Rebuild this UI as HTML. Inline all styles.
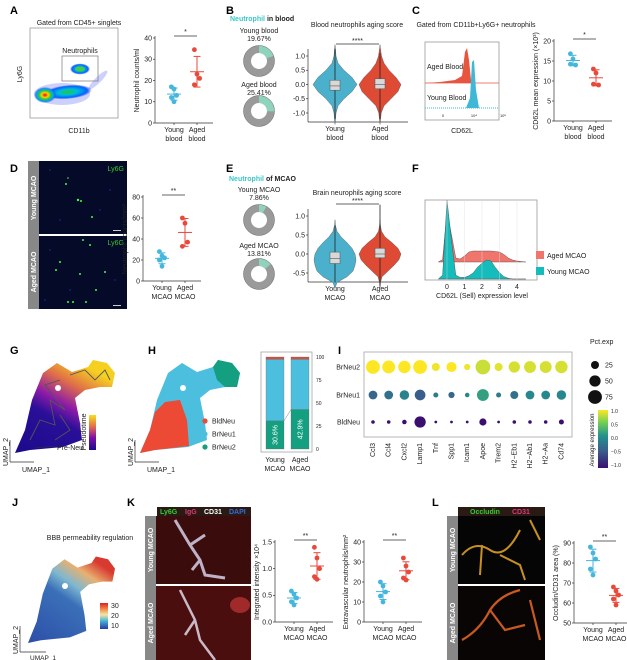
<!DOCTYPE html>
<html><head><meta charset="utf-8">
<style>
html,body{margin:0;padding:0;background:#fff;}
svg{display:block;font-family:"Liberation Sans",Arial,sans-serif;}
text{font-size:7px;fill:#222;}
.pl{font-size:11px;font-weight:bold;fill:#000;}
.ax{stroke:#333;stroke-width:0.7;fill:none;}
</style></head>
<body>
<svg id="fig" width="627" height="660" viewBox="0 0 627 660" xmlns="http://www.w3.org/2000/svg">
<defs>
<radialGradient id="hot" cx="50%" cy="50%" r="50%"><stop offset="0" stop-color="#e00"/><stop offset="0.3" stop-color="#fc0"/><stop offset="0.55" stop-color="#2c4"/><stop offset="0.8" stop-color="#09f"/><stop offset="1" stop-color="#22f" stop-opacity="0"/></radialGradient>
<radialGradient id="hot2" cx="50%" cy="50%" r="50%"><stop offset="0" stop-color="#2c2"/><stop offset="0.4" stop-color="#0bd"/><stop offset="0.8" stop-color="#06f"/><stop offset="1" stop-color="#22f" stop-opacity="0"/></radialGradient>
<linearGradient id="pseudo" x1="0" y1="1" x2="0" y2="0"><stop offset="0" stop-color="#1a0a8c"/><stop offset="0.35" stop-color="#7a11a8"/><stop offset="0.65" stop-color="#e1664f"/><stop offset="1" stop-color="#f8e020"/></linearGradient>
<linearGradient id="gblob" x1="0" y1="1" x2="0.6" y2="0"><stop offset="0" stop-color="#1a0a8c"/><stop offset="0.45" stop-color="#2a0f98"/><stop offset="0.6" stop-color="#8b1aa8"/><stop offset="0.8" stop-color="#e07048"/><stop offset="1" stop-color="#f5d020"/></linearGradient>
<linearGradient id="viri" x1="0" y1="1" x2="0" y2="0"><stop offset="0" stop-color="#3b0f70"/><stop offset="0.3" stop-color="#3a5e8c"/><stop offset="0.55" stop-color="#21918c"/><stop offset="0.8" stop-color="#7ad151"/><stop offset="1" stop-color="#fde725"/></linearGradient>
<linearGradient id="jet" x1="0" y1="1" x2="0" y2="0"><stop offset="0" stop-color="#2b3a9e"/><stop offset="0.3" stop-color="#3fb0d8"/><stop offset="0.55" stop-color="#f5e6a8"/><stop offset="0.8" stop-color="#f07a3a"/><stop offset="1" stop-color="#d8202a"/></linearGradient>
<linearGradient id="jblob" x1="0" y1="1" x2="0.7" y2="0"><stop offset="0" stop-color="#2d4ea8"/><stop offset="0.55" stop-color="#3a70b8"/><stop offset="0.7" stop-color="#7fb8d0"/><stop offset="0.85" stop-color="#e8b070"/><stop offset="1" stop-color="#d83a30"/></linearGradient>
<path id="umap" d="M15,453 L25,430 L32,400 L43,373 L57,363 L72,372 L88,367 L93,360 L107,363 L115,373 L112,387 L100,387 L85,390 L75,398 L80,423 L82,440 L63,447 L30,450 Z"/>
</defs>

<text class="pl" x="10" y="14">A</text>
<text class="pl" x="226" y="14">B</text>
<text class="pl" x="412" y="14">C</text>
<text class="pl" x="10" y="172">D</text>
<text class="pl" x="226" y="172">E</text>
<text class="pl" x="412" y="172">F</text>
<text class="pl" x="10" y="354">G</text>
<text class="pl" x="148" y="354">H</text>
<text class="pl" x="338" y="354">I</text>
<text class="pl" x="12" y="506">J</text>
<text class="pl" x="127" y="506">K</text>
<text class="pl" x="432" y="506">L</text>

<!-- A flow plot -->
<g>
<text x="79" y="25" text-anchor="middle">Gated from CD45+ singlets</text>
<rect x="30" y="28" width="88" height="90" fill="#fff" stroke="#999" stroke-width="0.8"/>
<ellipse cx="62" cy="94" rx="28" ry="11" fill="#3344ee" opacity="0.25"/>
<ellipse cx="68" cy="92" rx="24" ry="7" fill="url(#hot2)" transform="rotate(-5 68 92)"/>
<ellipse cx="45" cy="95" rx="11" ry="8" fill="url(#hot)"/>
<ellipse cx="80" cy="69" rx="10" ry="5.5" fill="url(#hot2)"/>
<ellipse cx="80" cy="69" rx="5" ry="2.5" fill="#4c4"/>
<ellipse cx="98" cy="80" rx="13" ry="3" fill="#3344ee" opacity="0.25" transform="rotate(-45 98 80)"/>
<rect x="62" y="56" width="36" height="25" fill="none" stroke="#777" stroke-width="0.7"/>
<text x="80" y="53" text-anchor="middle">Neutrophils</text>
<text x="0" y="0" transform="translate(22,74) rotate(-90)" text-anchor="middle">Ly6G</text>
<text x="79" y="133" text-anchor="middle">CD11b</text>
</g>

<text x="230" y="21" style="font-weight:bold"><tspan style="fill:#3cc6c8">Neutrophil</tspan> in blood</text>
<text x="259" y="33" text-anchor="middle">Young blood</text>
<text x="259" y="41" text-anchor="middle">19.67%</text>
<text x="259" y="87" text-anchor="middle">Aged blood</text>
<text x="259" y="95" text-anchor="middle">25.41%</text>
<text x="229" y="181" style="font-weight:bold"><tspan style="fill:#3cc6c8">Neutrophil</tspan> of MCAO</text>
<text x="259" y="192" text-anchor="middle">Young MCAO</text>
<text x="259" y="200" text-anchor="middle">7.86%</text>
<text x="259" y="248" text-anchor="middle">Aged MCAO</text>
<text x="259" y="256" text-anchor="middle">13.81%</text>
<g id="donuts"></g>

<text x="357" y="27" text-anchor="middle">Blood neutrophils aging score</text>
<text x="357" y="195" text-anchor="middle">Brain neurophils aging score</text>
<g id="violins"></g>

<text x="476" y="27" text-anchor="middle">Gated from CD11b+Ly6G+ neutrophils</text>
<g>
<rect x="425" y="42" width="74" height="78" fill="#fff" stroke="#999" stroke-width="0.8"/>
<line x1="425" y1="83" x2="499" y2="83" stroke="#e8553f" stroke-width="0.8"/>
<path d="M426,83 L440,82 L455,80 L462,76 L465,52 L467,48 L469,60 L471,80 L474,83 Z" fill="#e8553f"/>
<line x1="425" y1="108" x2="499" y2="108" stroke="#3fb7d6" stroke-width="1" stroke-dasharray="1 1"/>
<path d="M466,108 L470,98 L472,62 L474,60 L476,90 L479,108 Z" fill="#3fb7d6"/>
<text x="427" y="69">Aged Blood</text>
<text x="427" y="100">Young Blood</text>
<text x="443" y="117" style="font-size:4px" text-anchor="middle">0</text>
<text x="474" y="117" style="font-size:4px" text-anchor="middle">10⁴</text>
<text x="503" y="117" style="font-size:4px" text-anchor="middle">10⁵</text>
<text x="462" y="133" text-anchor="middle">CD62L</text>
</g>

<g>
<rect x="28" y="161" width="11" height="148" fill="#888"/>
<rect x="39" y="161" width="88" height="73" fill="#050a28"/>
<rect x="39" y="236" width="88" height="73" fill="#050a28"/>
<text transform="translate(36,198) rotate(-90)" text-anchor="middle" style="fill:#fff;font-weight:bold">Young MCAO</text>
<text transform="translate(36,272) rotate(-90)" text-anchor="middle" style="fill:#fff;font-weight:bold">Aged MCAO</text>
<text x="124" y="171" text-anchor="end" style="fill:#3c3">Ly6G</text>
<text x="124" y="245" text-anchor="end" style="fill:#3c3">Ly6G</text>
<g fill="#4f4"><circle cx="66" cy="184" r="1"/><circle cx="78" cy="200" r="1.2"/><circle cx="81" cy="201" r="1"/><circle cx="92" cy="217" r="1"/><circle cx="68" cy="178" r="0.8"/><circle cx="83" cy="240" r="1"/><circle cx="90" cy="245" r="1"/><circle cx="56" cy="270" r="1"/><circle cx="60" cy="262" r="1"/><circle cx="80" cy="274" r="1"/><circle cx="105" cy="272" r="1"/><circle cx="96" cy="290" r="1"/><circle cx="73" cy="302" r="1"/><circle cx="86" cy="302" r="1"/><circle cx="68" cy="302" r="1"/></g>
<g fill="#2233aa"><circle cx="50" cy="170" r="0.7"/><circle cx="110" cy="190" r="0.7"/><circle cx="60" cy="220" r="0.7"/><circle cx="100" cy="210" r="0.7"/><circle cx="50" cy="250" r="0.7"/><circle cx="115" cy="280" r="0.7"/><circle cx="70" cy="290" r="0.7"/><circle cx="45" cy="300" r="0.7"/></g>
<rect x="113" y="230" width="8" height="1" fill="#ccc"/><rect x="113" y="305" width="8" height="1" fill="#ccc"/>
</g>

<g id="ridges">
<rect x="425" y="200" width="112" height="80" fill="#fff" stroke="#999" stroke-width="0.8"/>
</g>
<rect x="536" y="251" width="8" height="8" fill="#f0766d"/>
<text x="547" y="258">Aged MCAO</text>
<rect x="536" y="267" width="8" height="8" fill="#14bcbc"/>
<text x="547" y="274">Young MCAO</text>
<text x="482" y="298" text-anchor="middle">CD62L (Sell) expression level</text>

<g>
<use href="#umap" fill="url(#gblob)"/>
<path d="M30,440 L40,420 L55,425 L50,400 L65,410 L45,385 L60,380 M70,375 L85,370 L95,380 L105,370 L110,380 M55,440 L70,430 L60,415" stroke="#555" stroke-width="0.9" fill="none"/>
<circle cx="58" cy="388" r="3" fill="#fff"/>
<rect x="89" y="415" width="7" height="35" fill="url(#pseudo)"/>
<text transform="translate(86,432) rotate(-90)" text-anchor="middle">Pseudotime</text>
<line x1="35" y1="448" x2="55" y2="446" stroke="#333" stroke-width="0.6"/>
<text x="57" y="450">Pre-Neu</text>
<line x1="10" y1="462" x2="10" y2="440" stroke="#333" stroke-width="0.7"/>
<line x1="10" y1="462" x2="34" y2="462" stroke="#333" stroke-width="0.7"/>
<text transform="translate(8,452) rotate(-90)" text-anchor="middle">UMAP_2</text>
<text x="22" y="472">UMAP_1</text>
</g>

<g transform="translate(125,0)">
<use href="#umap" fill="#4cbfdf"/>
<path d="M88,367 L93,360 L107,363 L115,373 L112,387 L100,387 L92,380 Z" fill="#14a080"/>
<path d="M15,453 L25,430 L30,412 L40,402 L55,400 L62,420 L64,446 L30,450 Z" fill="#ec4a35"/>
<circle cx="58" cy="388" r="3" fill="#fff"/>
<line x1="10" y1="462" x2="10" y2="440" stroke="#333" stroke-width="0.7"/>
<line x1="10" y1="462" x2="34" y2="462" stroke="#333" stroke-width="0.7"/>
<text transform="translate(8,452) rotate(-90)" text-anchor="middle">UMAP_2</text>
<text x="22" y="472">UMAP_1</text>
</g>
<circle cx="205" cy="421" r="2.6" fill="#ec4a35"/><text x="212" y="423.5">BldNeu</text>
<circle cx="205" cy="434" r="2.6" fill="#4cbfdf"/><text x="212" y="436.5">BrNeu1</text>
<circle cx="205" cy="447" r="2.6" fill="#14a080"/><text x="212" y="449.5">BrNeu2</text>
<g id="stack"></g>
<g id="dotplot"></g>

<text x="90" y="540" text-anchor="middle">BBB permeability regulation</text>
<g>
<use href="#umap" fill="url(#jblob)" transform="translate(28,643) scale(0.87,0.93) translate(-15,-453)"/>
<circle cx="65" cy="586" r="3" fill="#fff"/>
<rect x="100" y="603" width="8" height="26" fill="url(#jet)"/>
<text x="111" y="608">30</text><text x="111" y="618">20</text><text x="111" y="628">10</text>
<line x1="20" y1="652" x2="20" y2="626" stroke="#333" stroke-width="0.7"/>
<line x1="20" y1="652" x2="46" y2="652" stroke="#333" stroke-width="0.7"/>
<text transform="translate(18,640) rotate(-90)" text-anchor="middle">UMAP_2</text>
<text x="30" y="660" style="font-size:6.5px">UMAP_1</text>
</g>

<g>
<rect x="157" y="507" width="94" height="9" fill="#2a1a14"/>
<text x="160" y="514" style="fill:#3c3;font-weight:bold">Ly6G</text>
<text x="185" y="514" style="fill:#e2357a;font-weight:bold">IgG</text>
<text x="204" y="514" style="fill:#fff;font-weight:bold">CD31</text>
<text x="229" y="514" style="fill:#3a6ad8;font-weight:bold">DAPI</text>
<rect x="145" y="516" width="11" height="144" fill="#888"/>
<rect x="156" y="516" width="95" height="68" fill="#3a0c0c"/>
<rect x="156" y="586" width="95" height="74" fill="#4a0e0e"/>
<path d="M175,520 L190,545 L200,560 L205,575 L225,578 M190,545 L205,535 M200,560 L192,570" stroke="#d8d0e8" stroke-width="3" fill="none" opacity="0.85"/>
<path d="M180,590 L195,620 L200,640 L215,660 M195,620 L185,635" stroke="#e0d8e8" stroke-width="2.5" fill="none" opacity="0.85"/>
<ellipse cx="240" cy="605" rx="10" ry="8" fill="#a02a2a"/>
<text transform="translate(153,550) rotate(-90)" text-anchor="middle" style="fill:#fff;font-weight:bold">Young MCAO</text>
<text transform="translate(153,623) rotate(-90)" text-anchor="middle" style="fill:#fff;font-weight:bold">Aged MCAO</text>
</g>

<g>
<rect x="458" y="507" width="87" height="9" fill="#2a1a14"/>
<text x="470" y="514" style="fill:#3c3;font-weight:bold">Occludin</text>
<text x="512" y="514" style="fill:#e2357a;font-weight:bold">CD31</text>
<rect x="447" y="516" width="11" height="144" fill="#888"/>
<rect x="458" y="516" width="87" height="68" fill="#050505"/>
<rect x="458" y="586" width="87" height="74" fill="#0a0505"/>
<path d="M462,555 Q475,540 490,550 Q505,560 520,530 M482,545 L480,575 M500,555 L520,565 L525,580 M530,520 L540,540" stroke="#c89020" stroke-width="2" fill="none"/>
<path d="M462,640 Q480,630 490,610 Q500,595 520,590 M490,610 L505,630 L525,625 M530,600 L540,640" stroke="#c85a20" stroke-width="2.2" fill="none"/>
<text transform="translate(455,550) rotate(-90)" text-anchor="middle" style="fill:#fff;font-weight:bold">Young MCAO</text>
<text transform="translate(455,623) rotate(-90)" text-anchor="middle" style="fill:#fff;font-weight:bold">Aged MCAO</text>
</g>

<g id="scatters"></g>
</svg>

<script>
const NS='http://www.w3.org/2000/svg';
function mk(tag,attrs,parent,txt){const e=document.createElementNS(NS,tag);for(const k in attrs)e.setAttribute(k,attrs[k]);if(txt!==undefined)e.textContent=txt;parent.appendChild(e);return e;}
const YC='#45b6dc', AC='#e8493a';

const aYoung=[17,16,13,12,10], aAged=[34.5,23,21,18];
const cYoung=[16.8,15.5,14,14.2], cAged=[13,12,9,9.2];
const dYoung=[28,24,22,20,14], dAged=[60,55,37,33];
const k1Young=[0.58,0.52,0.45,0.38,0.32], k1Aged=[1.4,1.2,1.0,0.85,0.8];
const k2Young=[20,18,15,13,10], k2Aged=[32,28,25,22,21];
const lYoung=[88,85,82,77,74], lAged=[68,66,64,62,59];
const aTicks=[0,10,20,30,40], cTicks=[0,5,10,15,20], dTicks=[0,20,40,60,80];
const k1Ticks=[0,0.5,1.0,1.5], k2Ticks=[0,10,20,30,40], lTicks=[50,60,70,80,90];

function mean(a){return a.reduce((s,v)=>s+v,0)/a.length;}
function sd(a){const m=mean(a);return Math.sqrt(a.reduce((s,v)=>s+(v-m)*(v-m),0)/(a.length-1));}

const sg=document.getElementById('scatters');
function scatter(id,ax,yTop,yBot,ticks,dec,young,aged,ylab,sig,cat){
  const g=mk('g',{},sg);
  
  
  const vmin=ticks[0],vmax=ticks[ticks.length-1];
  const y=v=>yBot-(v-vmin)/(vmax-vmin)*(yBot-yTop);
  const xY=ax+19, xA=ax+42;
  mk('line',{x1:ax,y1:yTop-2,x2:ax,y2:yBot,class:'ax'},g);
  mk('line',{x1:ax,y1:yBot,x2:ax+58,y2:yBot,class:'ax'},g);
  ticks.forEach(t=>{mk('line',{x1:ax-2,y1:y(t),x2:ax,y2:y(t),class:'ax'},g);
    const tl=mk('text',{x:ax-3,y:y(t)+2.3,'text-anchor':'end'},g,t.toFixed(dec));
    
    });
  [xY,xA].forEach(x=>mk('line',{x1:x,y1:yBot,x2:x,y2:yBot+2,class:'ax'},g));
  const yl=mk('text',{transform:`translate(${ax-16},${(yTop+yBot)/2}) rotate(-90)`,'text-anchor':'middle'},g,ylab);
  
  
  [[young,xY,YC,'young'],[aged,xA,AC,'aged']].forEach(([arr,x,c,n])=>{
    const m=mean(arr),s=sd(arr);
    mk('line',{x1:x-7,y1:y(m),x2:x+7,y2:y(m),stroke:c,'stroke-width':1},g);
    mk('line',{x1:x,y1:y(m-s),x2:x,y2:y(m+s),stroke:c,'stroke-width':1},g);
    mk('line',{x1:x-3.5,y1:y(m-s),x2:x+3.5,y2:y(m-s),stroke:c,'stroke-width':1},g);
    mk('line',{x1:x-3.5,y1:y(m+s),x2:x+3.5,y2:y(m+s),stroke:c,'stroke-width':1},g);
    arr.forEach((v,i)=>{const dx=((i%3)-1)*2.6;
      const p=mk('circle',{cx:x+dx,cy:y(v),r:2.4,fill:c},g);
      
      });
    const l1=mk('text',{x:x,y:yBot+9,'text-anchor':'middle'},g,n==='young'?'Young':'Aged');
    
    
    mk('text',{x:x,y:yBot+18,'text-anchor':'middle'},g,cat);
  });
  mk('line',{x1:xY,y1:yTop-2,x2:xA,y2:yTop-2,stroke:'#333','stroke-width':0.8},g);
  const st=mk('text',{x:(xY+xA)/2,y:yTop-4,'text-anchor':'middle'},g,sig);
  
  
}
scatter('scatter-a',155,38,123,aTicks,0,aYoung,aAged,'Neutrophil counts/ml','*','blood');
scatter('scatter-c',554,41,121,cTicks,0,cYoung,cAged,'CD62L mean expression (×10³)','*','blood');
scatter('scatter-d',143,197,281,dTicks,0,dYoung,dAged,'Neutrophil counts/mm²','**','MCAO');
scatter('scatter-k-igg',275,542,622,k1Ticks,1,k1Young,k1Aged,'Integrated intensity ×10⁴','**','MCAO');
scatter('scatter-k-neutrophils',364,542,622,k2Ticks,0,k2Young,k2Aged,'Extravascular neutrophils/mm²','**','MCAO');
scatter('scatter-l',574,543,623,lTicks,0,lYoung,lAged,'Occludin/CD31 area (%)','**','MCAO');

const donutPct=[19.67,25.41,7.86,13.81];
const donutNames=['young-blood','aged-blood','young-mcao','aged-mcao'];
const donutCy=[61,111,220,274];
const dg=document.getElementById('donuts');
donutPct.forEach((p,i)=>{
  const cx=259,cy=donutCy[i],R=15.5,r=8;
  const g=mk('g',{},dg);
  
  
  mk('circle',{cx:cx,cy:cy,r:(R+r)/2,fill:'none',stroke:'#9a9a9a','stroke-width':R-r},g);
  const a=p/100*2*Math.PI;
  const x1=cx,y1=cy-R,x2=cx+R*Math.sin(a),y2=cy-R*Math.cos(a);
  const x3=cx+r*Math.sin(a),y3=cy-r*Math.cos(a);
  const s=mk('path',{d:`M${x1},${y1} A${R},${R} 0 0 1 ${x2},${y2} L${x3},${y3} A${r},${r} 0 0 0 ${cx},${cy-r} Z`,fill:'#8fd3bd'},g);
  
  
  mk('circle',{cx:cx,cy:cy,r:R,fill:'none',stroke:'#666','stroke-width':0.5},g);
});

const vLevels=[-1.25,-1.0,-0.75,-0.5,-0.25,0,0.25,0.5,0.75,1.0,1.25];
const vbYoungW=[0.5,1,3,9,17,22,17,9,3,1,0.5];
const vbAgedW=[0.5,1.2,4,11,18,21,16,9,4,1.5,0.5];
const veLevels=[-0.75,-0.6,-0.45,-0.3,-0.15,0,0.15,0.3,0.45,0.6,0.75];
const veYoungW=[2,12,18,20,21,20,17,12,6,2,0.5];
const veAgedW=[0.5,2,8,14,19,21,18,12,5,1.5,0.5];
const vg=document.getElementById('violins');
function violinPanel(id,yTop,yBot,ticks,levels,yW,aW,boxY,boxA){
  const g=mk('g',{},vg);
  
  
  const ax=308, vmin=ticks[0], vmax=ticks[ticks.length-1];
  const yT=yTop+7, yB=yBot-9;
  const y=v=>yB-(v-vmin)/(vmax-vmin)*(yB-yT);
  mk('line',{x1:ax,y1:yTop,x2:ax,y2:yBot,class:'ax'},g);
  mk('line',{x1:ax,y1:yBot,x2:ax+100,y2:yBot,class:'ax'},g);
  ticks.forEach(t=>{mk('line',{x1:ax-2,y1:y(t),x2:ax,y2:y(t),class:'ax'},g);
    mk('text',{x:ax-3,y:y(t)+2.3,'text-anchor':'end'},g,t.toFixed(1));});
  [[335,yW,'#4bb0cc','young',boxY],[380,aW,'#de4a33','aged',boxA]].forEach(([cx,w,c,n,bx])=>{
    let d='M'+(cx)+','+y(levels[0]-0.15);
    levels.forEach((l,i)=>{d+=' L'+(cx+w[i])+','+y(l);});
    d+=' L'+cx+','+y(levels[levels.length-1]+0.15);
    for(let i=levels.length-1;i>=0;i--)d+=' L'+(cx-w[i])+','+y(levels[i]);
    d+='Z';
    const v=mk('path',{d:d,fill:c,stroke:'#555','stroke-width':0.4,'stroke-linejoin':'round'},g);
    
    
    mk('line',{x1:cx,y1:y(bx[0]),x2:cx,y2:y(bx[4]),stroke:'#222','stroke-width':0.8},g);
    const b=mk('rect',{x:cx-5,y:y(bx[3]),width:10,height:y(bx[1])-y(bx[3]),fill:'#d8d8d8',stroke:'#555','stroke-width':0.5},g);
    
    
    mk('line',{x1:cx-5,y1:y(bx[2]),x2:cx+5,y2:y(bx[2]),stroke:'#555','stroke-width':0.6},g);
  });
  mk('line',{x1:336,y1:yTop-5,x2:379,y2:yTop-5,stroke:'#333','stroke-width':0.8},g);
  mk('text',{x:357.5,y:yTop-6,'text-anchor':'middle'},g,'****');
}
const vbTicks=[-1.0,-0.5,0.0,0.5,1.0];
const veTicks=[-0.5,0.0,0.5,1.0];
violinPanel('violin-blood',49,122,vbTicks,vLevels,vbYoungW,vbAgedW,[-1.2,-0.2,-0.05,0.15,1.25],[-1.2,-0.15,0.0,0.2,1.1]);
violinPanel('violin-brain',209,282,veTicks,veLevels,veYoungW,veAgedW,[-0.75,-0.25,-0.12,0.05,0.75],[-0.85,-0.1,0.0,0.15,1.3]);
[['Young',335],['Aged',380]].forEach(([n,x])=>{
  mk('text',{x:x,y:131,'text-anchor':'middle'},vg,n);
  mk('text',{x:x,y:140,'text-anchor':'middle'},vg,'blood');
  mk('text',{x:x,y:291,'text-anchor':'middle'},vg,n);
  mk('text',{x:x,y:300,'text-anchor':'middle'},vg,'MCAO');
});

const rX=[-0.5,-0.25,0,0.25,0.5,0.75,1,1.25,1.5,1.75,2,2.25,2.5,2.75,3,3.25,3.5,3.75,4,4.25,4.5];
const rAged=[0,0.05,1.0,0.55,0.08,0.06,0.12,0.2,0.22,0.22,0.22,0.22,0.22,0.21,0.2,0.15,0.08,0.04,0.02,0.01,0];
const rYoung=[0,0.05,1.0,0.5,0.05,0.02,0.02,0.04,0.08,0.15,0.2,0.24,0.23,0.15,0.08,0.03,0.01,0,0,0,0];
const rTicks=[0,1,2,3,4];
const rg=document.getElementById('ridges');
const rx=v=>447+v*17.5;
[[rAged,262,50,'#f0766d','aged-mcao-density'],[rYoung,279,79,'#14bcbc','young-mcao-density']].forEach(([arr,base,h,c,n])=>{
  let d='M'+rx(rX[0])+','+base;
  arr.forEach((v,i)=>{d+=' L'+rx(rX[i]).toFixed(1)+','+(base-v*h).toFixed(1);});
  d+=' L'+rx(rX[rX.length-1])+','+base+' Z';
  const p=mk('path',{d:d,fill:c,stroke:'#444','stroke-width':0.4,'stroke-linejoin':'round'},rg);
  
  
});
rTicks.forEach(t=>{mk('line',{x1:rx(t),y1:200,x2:rx(t),y2:280,stroke:'#ddd','stroke-width':0.4},rg);
  const tl=mk('text',{x:rx(t),y:289,'text-anchor':'middle'},rg,String(t));
  
  });

const stackCats=['Young MCAO','Aged MCAO'];
const brNeu2=[30.6,42.9], brNeu1=[67.0,54.6], bldNeu=[2.4,2.5];
const stTicks=[0,25,50,75,100];
const stg=document.getElementById('stack');
mk('rect',{x:261,y:352,width:51,height:100,fill:'#fff',stroke:'#999','stroke-width':0.7},stg);
const sy=v=>449-v/100*(449-357);
const sx=[266,291];
stackCats.forEach((c,i)=>{
  let cum=0;
  [[brNeu2[i],'#14a080','brneu2'],[brNeu1[i],'#4cbfdf','brneu1'],[bldNeu[i],'#e34a35','bldneu']].forEach(([v,col,n])=>{
    const r=mk('rect',{x:sx[i],y:sy(cum+v),width:18,height:sy(cum)-sy(cum+v),fill:col,stroke:'#666','stroke-width':0.3},stg);
    
    
    cum+=v;});
  mk('text',{transform:`translate(${sx[i]+11.5},${sy(brNeu2[i]/2)}) rotate(-90)`,'text-anchor':'middle',style:'fill:#fff'},stg,brNeu2[i].toFixed(1)+'%');
  const parts=c.split(' ');
  mk('text',{x:sx[i]+9,y:462,'text-anchor':'middle'},stg,parts[0]);
  mk('text',{x:sx[i]+9,y:471,'text-anchor':'middle'},stg,parts[1]);
});
mk('line',{x1:284,y1:sy(brNeu2[0]),x2:291,y2:sy(brNeu2[1]),stroke:'#666','stroke-width':0.4},stg);
stTicks.forEach(t=>{mk('text',{x:316,y:sy(t)+2,style:'font-size:5px'},stg,String(t));});

const genes=['Ccl3','Ccl4','Cxcl2','Lamp1','Tnf','Spp1','Icam1','Apoe','Trem2','H2−Eb1','H2−Ab1','H2−Aa','Cd74'];
const rowsI=['BrNeu2','BrNeu1','BldNeu'];
const pctBrNeu2=[75,65,60,75,25,40,15,85,25,50,55,55,60];
const pctBrNeu1=[30,30,35,45,10,15,8,55,10,25,30,30,35];
const pctBldNeu=[5,5,8,50,3,3,3,20,3,5,5,5,10];
const expBrNeu2=[1.0,1.0,1.0,1.0,0.95,1.0,0.95,0.8,0.9,0.85,0.85,0.85,0.85];
const expBrNeu1=[-0.4,-0.3,-0.15,-0.5,-0.2,-0.4,-0.1,0.1,-0.2,-0.3,-0.1,-0.1,-0.1];
const expBldNeu=[-1,-1,-1,-1,-1,-1,-1,-1,-1,-1,-1,-1,-1];
const pctRows=[pctBrNeu2,pctBrNeu1,pctBldNeu], expRows=[expBrNeu2,expBrNeu1,expBldNeu];
const legendPct=[25,50,75];
const dpg=document.getElementById('dotplot');
mk('rect',{x:364,y:352,width:208,height:85,fill:'#fff',stroke:'#999','stroke-width':0.7},dpg);
const gx=i=>373+i*15.7, ryI=[367,395,422];
const rad=p=>Math.sqrt(p)*0.8;
function viridis(v){const t=(v+1)/2;const stops=[[59,15,112],[58,94,140],[33,145,140],[122,209,81],[253,231,37]];
  const f=t*(stops.length-1),i=Math.min(stops.length-2,Math.floor(f)),u=f-i;
  const c=stops[i].map((s,k)=>Math.round(s+(stops[i+1][k]-s)*u));return `rgb(${c})`;}
rowsI.forEach((r,ri)=>{
  mk('text',{x:360,y:ryI[ri]+2.5,'text-anchor':'end'},dpg,r);
  genes.forEach((gname,gi)=>{
    const c=mk('circle',{cx:gx(gi),cy:ryI[ri],r:rad(pctRows[ri][gi]),fill:viridis(expRows[ri][gi])},dpg);
    
    
  });
});
genes.forEach((gname,gi)=>{
  const t=mk('text',{transform:`translate(${gx(gi)+2},${443}) rotate(-90)`,'text-anchor':'end'},dpg,gname);
  
  
});
mk('text',{x:590,y:344},dpg,'Pct.exp');
legendPct.forEach((p,i)=>{mk('circle',{cx:595,cy:365+i*16,r:rad(p),fill:'#111'},dpg);
  mk('text',{x:605,y:367.5+i*16},dpg,String(p));});
mk('rect',{x:598,y:410,width:10,height:58,fill:'url(#viri)'},dpg);
['1.0','0.5','0.0','−0.5','−1.0'].forEach((t,i)=>mk('text',{x:611,y:413+i*13.5,style:'font-size:5px'},dpg,t));
mk('text',{transform:'translate(594,440) rotate(-90)','text-anchor':'middle',style:'font-size:6px'},dpg,'Average expression');
</script>
</body></html>
